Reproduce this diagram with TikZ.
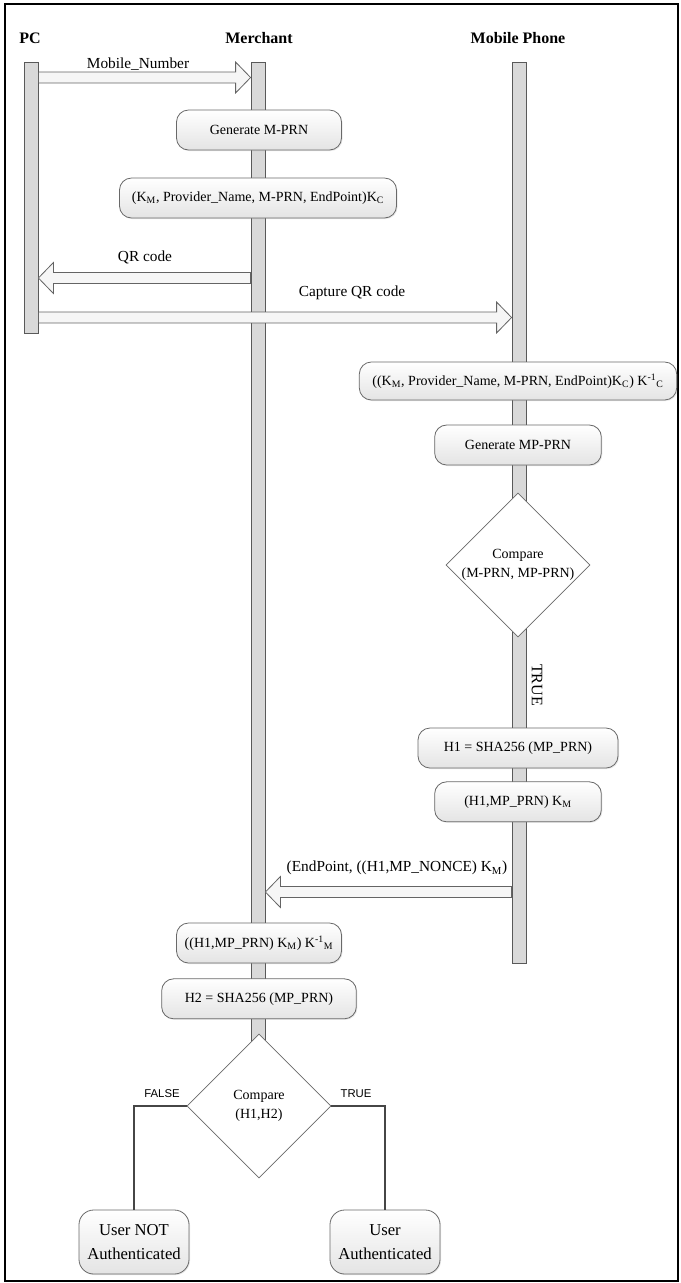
\documentclass[tikz,border=0pt]{standalone}
\usepackage{fontspec}
\setmainfont{Liberation Serif}
\newfontfamily\labelsans{Liberation Sans}
\usetikzlibrary{shapes.geometric, positioning, calc, shadows}
\definecolor{bargray}{RGB}{217,217,217}
\definecolor{baredge}{RGB}{89,89,89}
\definecolor{boxedge}{RGB}{105,105,105}
\definecolor{boxfill}{RGB}{228,228,228}
\definecolor{arrowedge}{RGB}{100,100,100}
\definecolor{arrowfill}{RGB}{246,246,246}
\definecolor{wiregray}{RGB}{70,70,70}
\tikzset{
  header/.style={font=\fontsize{12}{14}\selectfont\bfseries, inner sep=1pt},
  lifebar/.style={rectangle, draw=baredge, fill=bargray, minimum width=10.5pt,
    inner sep=0pt, anchor=north, line width=0.6pt},
  procbox/.style={rectangle, rounded corners=9pt, draw=boxedge, top color=white,
    bottom color=boxfill, minimum height=30pt, align=center, inner sep=2pt,
    font=\fontsize{10.5}{12}\selectfont, line width=0.6pt,
    drop shadow={opacity=0.18, shadow xshift=0.8pt, shadow yshift=-0.8pt}},
  endbox/.style={procbox, minimum width=82.5pt, minimum height=48pt,
    rounded corners=11pt, font=\fontsize{12.5}{18}\selectfont},
  decision/.style={diamond, draw=boxedge, fill=white, minimum width=108pt,
    minimum height=108pt, inner sep=0pt, align=center,
    font=\fontsize{10.5}{14}\selectfont, line width=0.6pt},
  msglabel/.style={font=\fontsize{11.5}{13}\selectfont, inner sep=1pt},
  branchlabel/.style={font=\labelsans\fontsize{8.5}{10}\selectfont, inner sep=1pt},
  truelabel/.style={font=\fontsize{12}{14}\selectfont, inner sep=1pt},
  wire/.style={draw=wiregray, line width=1.6pt},
  msgarrow/.style={draw=arrowedge, fill=arrowfill, line width=0.6pt, line join=miter,
    to path={let \p1=(\tikztostart), \p2=(\tikztotarget),
      \n1={ifthenelse(\x2>\x1,1,-1)} in
      (\x1,\y1+4.1pt) -- ({\x2-(\n1)*11.25pt},\y1+4.1pt)
      -- ({\x2-(\n1)*11.25pt},\y1+11.6pt) -- (\x2,\y1)
      -- ({\x2-(\n1)*11.25pt},\y1-11.6pt) -- ({\x2-(\n1)*11.25pt},\y1-4.1pt)
      -- (\x1,\y1-4.1pt) -- cycle}}
}

\begin{document}
\begin{tikzpicture}[x=0.75pt, y=-0.75pt]
  \useasboundingbox (0,0) rectangle (681,1283);
  \fill[white] (0,0) rectangle (681,1283);
  \draw[line width=1.2pt] (5,4) rectangle (678,1281);

  % Participants
  \node[header] (pc) at (30,38) {PC};
  \node[header] (merchant) at (259,38) {Merchant};
  \node[header] (mobile) at (518,38) {Mobile Phone};

  % Life lines
  \node[lifebar, minimum height=203.25pt] (pcbar) at (31,62) {};
  \node[lifebar, minimum height=737.25pt] (merbar) at (258,62) {};
  \node[lifebar, minimum height=675.75pt] (mobbar) at (519,62) {};

  % Message heights
  \coordinate (m1) at (0,77.5);
  \coordinate (m2) at (0,278);
  \coordinate (m3) at (0,317.5);
  \coordinate (m4) at (0,892);

  % Merchant steps
  \node[procbox, minimum width=123.75pt] (genm) at (259,130) {Generate M-PRN};
  \node[procbox, minimum width=207.75pt] (encm) at (258,198)
    {(K\textsubscript{M}, Provider\_Name, M-PRN, EndPoint)K\textsubscript{C}};

  % Mobile steps
  \node[procbox, minimum width=238pt, minimum height=28.5pt] (decm) at (518,381)
    {((K\textsubscript{M}, Provider\_Name, M-PRN, EndPoint)K\textsubscript{C}) K\textsuperscript{-1}\textsubscript{C}};
  \node[procbox, minimum width=125pt] (genmp) at (518,445) {Generate MP-PRN};
  \node[decision] (cmp1) at (518,565) {Compare\\(M-PRN, MP-PRN)};
  \node[truelabel, rotate=-90] (true1) at (537,685) {TRUE};
  \node[procbox, minimum width=150pt] (hash1) at (518,748) {H1 = SHA256 (MP\_PRN)};
  \node[procbox, minimum width=125pt, below=9.75pt of hash1] (enc1)
    {(H1,MP\_PRN) K\textsubscript{M}};

  % Merchant verification
  \node[procbox, minimum width=123.75pt] (dec1) at (259,943)
    {((H1,MP\_PRN) K\textsubscript{M}) K\textsuperscript{-1}\textsubscript{M}};
  \node[procbox, minimum width=146pt, below=11.25pt of dec1] (hash2)
    {H2 = SHA256 (MP\_PRN)};
  \node[decision] (cmp2) at (259,1106) {Compare\\(H1,H2)};
  \node[endbox] (fail) at (134,1242) {User NOT\\Authenticated};
  \node[endbox] (pass) at (385,1242) {User\\Authenticated};
  \node[branchlabel] (falselbl) at (162,1094) {FALSE};
  \node[branchlabel] (truelbl) at (356,1094) {TRUE};

  % Messages
  \draw[msgarrow] (pcbar.east |- m1) to (merbar.west |- m1);
  \node[msglabel] (lblnum) at (138,64) {Mobile\_Number};
  \draw[msgarrow] (merbar.west |- m2) to (pcbar.east |- m2);
  \node[msglabel] (lblqr) at (145,257) {QR code};
  \draw[msgarrow] (pcbar.east |- m3) to (mobbar.west |- m3);
  \node[msglabel] (lblcap) at (352,293) {Capture QR code};
  \draw[msgarrow] (mobbar.west |- m4) to (merbar.east |- m4);
  \node[msglabel] (lblend) at (397,868) {(EndPoint, ((H1,MP\_NONCE) K\textsubscript{M})};

  % Branches
  \draw[wire] (cmp2.west) -| (fail.north);
  \draw[wire] (cmp2.east) -| (pass.north);
\end{tikzpicture}
\end{document}
